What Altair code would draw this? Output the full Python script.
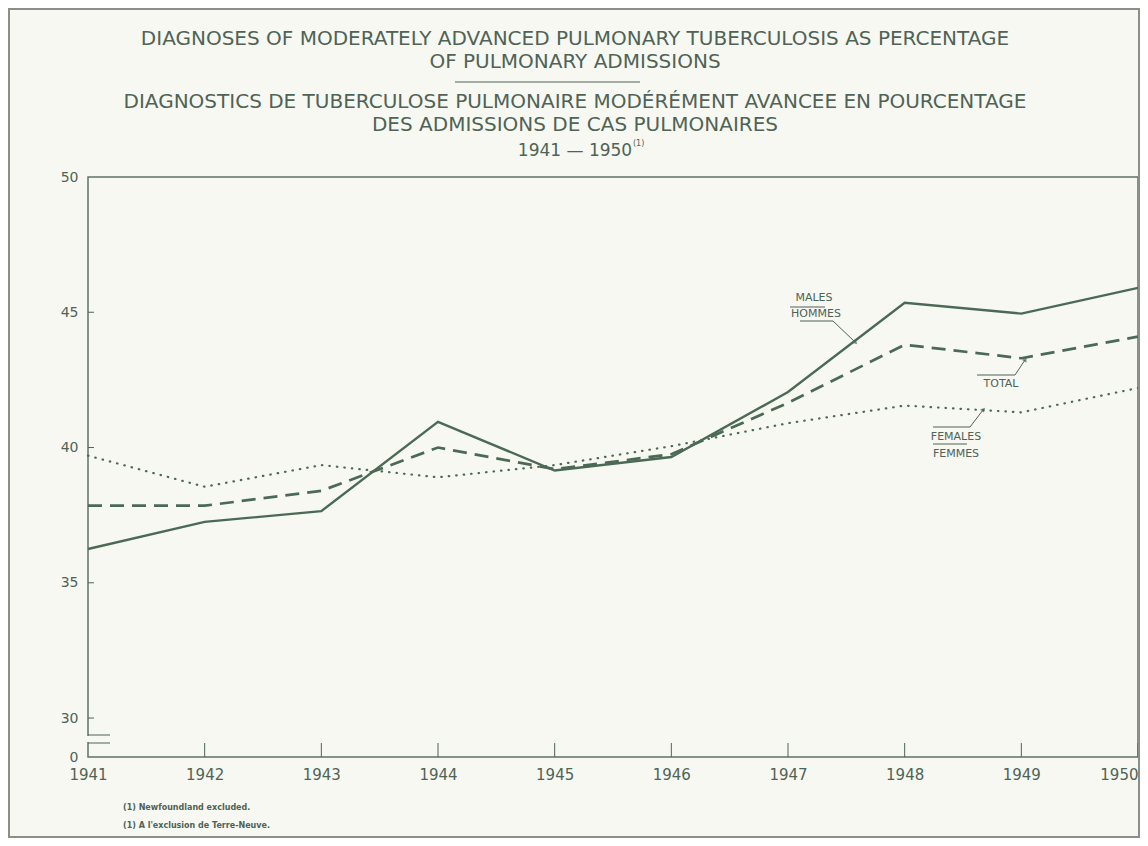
import altair as alt
import pandas as pd

years = [1941, 1942, 1943, 1944, 1945, 1946, 1947, 1948, 1949, 1950]
males = [36.25, 37.25, 37.65, 40.95, 39.15, 39.65, 42.05, 45.35, 44.95, 45.9]
total = [37.85, 37.85, 38.4, 40.0, 39.2, 39.75, 41.65, 43.8, 43.3, 44.1]
females = [39.7, 38.55, 39.35, 38.9, 39.35, 40.05, 40.9, 41.55, 41.3, 42.2]

y_ticks = [30, 35, 40, 45, 50]
y_break = 28.56

title_lines = [
    "DIAGNOSES OF MODERATELY ADVANCED PULMONARY TUBERCULOSIS AS PERCENTAGE",
    "OF PULMONARY ADMISSIONS",
    "DIAGNOSTICS DE TUBERCULOSE PULMONAIRE MODÉRÉMENT AVANCEE EN POURCENTAGE",
    "DES ADMISSIONS DE CAS PULMONAIRES",
    "1941 — 1950",
]
footnotes = ["(1)  Newfoundland excluded.", "(1)  A l'exclusion de Terre-Neuve."]

W, H = 1050, 580
INK = "#4f6356"
LINE = "#4b6a55"
BG = "#f7f8f2"
FONT = "DejaVu Sans"

rows = []
for name, vals in [("Males", males), ("Total", total), ("Females", females)]:
    for yr, v in zip(years, vals):
        rows.append({"year": yr, "value": v, "series": name})
df = pd.DataFrame(rows)

xs = alt.Scale(domain=[1941, 1950], nice=False, zero=False)
ys = alt.Scale(domain=[y_break, 50], nice=False, zero=False)

base = alt.Chart(df)

axes = base.mark_point(opacity=0).encode(
    x=alt.X("year:Q", scale=xs, title=None,
            axis=alt.Axis(values=years, format="d", ticks=False, domain=False, grid=False,
                          labelFont=FONT, labelFontSize=15, labelColor=INK, labelPadding=10,
                          labelFlush=False,
                          labelAlign=alt.ExprRef(expr="datum.value == 1950 ? 'right' : 'center'"))),
    y=alt.Y("value:Q", scale=ys, title=None,
            axis=alt.Axis(values=[y_break] + y_ticks, ticks=False, domain=False, grid=False,
                          labelExpr="datum.value < 29 ? '0' : toString(round(datum.value))",
                          labelFont=FONT, labelFontSize=14, labelColor=INK, labelPadding=10)),
)

def series_line(name, **kw):
    return base.transform_filter(alt.datum.series == name).mark_line(color=LINE, **kw).encode(
        x=alt.X("year:Q", scale=xs), y=alt.Y("value:Q", scale=ys))

males_l = series_line("Males", strokeWidth=2.4)
total_l = series_line("Total", strokeWidth=2.7, strokeDash=[14, 8])
fem_l = series_line("Females", strokeWidth=2.2, strokeDash=[0.5, 7], strokeCap="round")

xt = alt.Chart(pd.DataFrame({"year": years[1:]})).mark_rule(color=INK, strokeWidth=1).encode(
    x=alt.X("year:Q", scale=xs), y=alt.value(H - 14), y2=alt.value(H))
yt = alt.Chart(pd.DataFrame({"v": y_ticks[:-1]})).mark_rule(color=INK, strokeWidth=1).encode(
    y=alt.Y("v:Q", scale=ys), x=alt.value(0), x2=alt.value(6))

one = pd.DataFrame({"a": [0]})
brk_gap = alt.Chart(one).mark_rect(color=BG).encode(
    x=alt.value(-2), x2=alt.value(2), y=alt.value(559), y2=alt.value(565))
segs = pd.DataFrame({
    "x": [0, 0, 702, 712, 745, 889, 927, 845, 882, 845, 367],
    "x2": [22, 22, 737, 745, 767, 927, 937, 882, 895, 879, 552],
    "y": [558, 566, 130, 144, 144, 198, 198, 250, 250, 267, -95],
    "y2": [558, 566, 130, 144, 165, 198, 183, 250, 233, 267, -95],
})
seg_l = alt.Chart(segs).mark_rule(color=INK, strokeWidth=1).encode(
    x=alt.X("x:Q", scale=None), x2="x2:Q", y=alt.Y("y:Q", scale=None), y2="y2:Q")

arrows = pd.DataFrame({"x": [767, 937, 895], "y": [165, 183, 233], "ang": [135, 30, 40]})
arr_l = alt.Chart(arrows).mark_point(shape="triangle", filled=True, color=INK, size=28).encode(
    x=alt.X("x:Q", scale=None), y=alt.Y("y:Q", scale=None), angle=alt.Angle("ang:Q", scale=None))

lab = pd.DataFrame({
    "t": ["MALES", "HOMMES", "TOTAL", "FEMALES", "FEMMES"],
    "x": [726, 728, 913, 868, 868],
    "y": [121, 137, 207, 260, 277],
})
lab_l = alt.Chart(lab).mark_text(font=FONT, fontSize=11, color=INK, align="center", baseline="middle").encode(
    x=alt.X("x:Q", scale=None), y=alt.Y("y:Q", scale=None), text="t:N")

tt = pd.DataFrame({"t": title_lines, "y": [-138, -115, -75, -52, -26],
                   "s": [20, 20, 20, 20, 17]})
title_l = alt.Chart(tt).mark_text(font=FONT, color=INK, align="center", baseline="middle").encode(
    x=alt.value(487), y=alt.Y("y:Q", scale=None), text="t:N", size=alt.Size("s:Q", scale=None))
sup_l = alt.Chart(pd.DataFrame({"t": ["(1)"]})).mark_text(font=FONT, fontSize=8, color=INK, align="left").encode(
    x=alt.value(545), y=alt.value(-33), text="t:N")

fn = pd.DataFrame({"t": footnotes, "y": [631, 649]})
fn_l = alt.Chart(fn).mark_text(font=FONT, fontSize=8, fontWeight="bold", color=INK, align="left", baseline="middle").encode(
    x=alt.value(35), y=alt.Y("y:Q", scale=None), text="t:N")

border = alt.Chart(one).mark_rect(fill=None, stroke="#8a8f88", strokeWidth=2).encode(
    x=alt.value(-79), x2=alt.value(W + 1), y=alt.value(-168), y2=alt.value(H + 80))

chart = alt.layer(
    axes, brk_gap, xt, yt, seg_l, arr_l, fem_l, total_l, males_l, lab_l, title_l, sup_l, fn_l, border
).properties(
    width=W, height=H,
    autosize=alt.AutoSizeParams(type="none"),
    padding={"left": 80, "top": 169, "right": 2, "bottom": 81},
    background=BG,
).configure_view(
    stroke="#5f7366", strokeWidth=1.5, clip=False
)

chart.save("out.html", embed_options={"renderer": "svg", "actions": False})
